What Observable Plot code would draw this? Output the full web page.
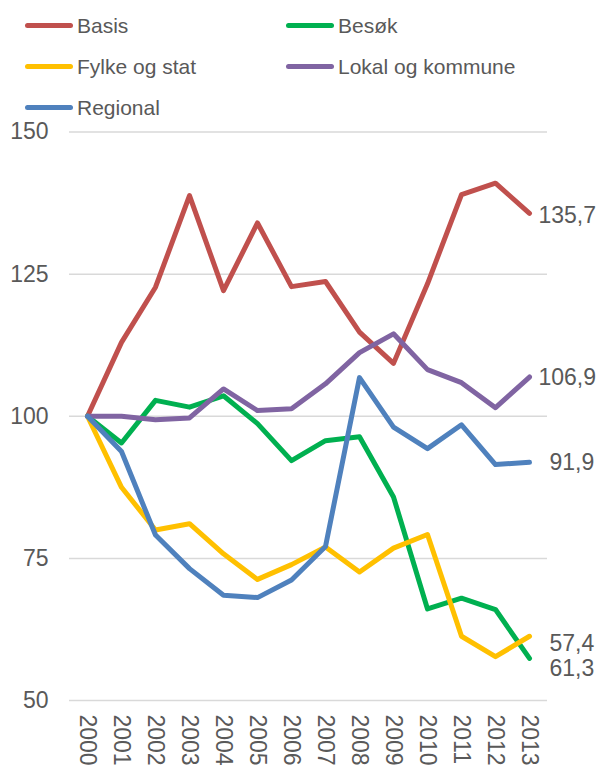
<!DOCTYPE html>
<html>
<head>
<meta charset="utf-8">
<script src="https://cdn.jsdelivr.net/npm/d3@7"></script>
<script src="https://cdn.jsdelivr.net/npm/@observablehq/plot@0.6"></script>
<style>
  html, body { margin: 0; padding: 0; background: #fff; overflow: hidden; }
  body { width: 601px; height: 767px; font-family: "Liberation Sans", Arial, sans-serif; color: #595959; }
  #legend { position: relative; z-index: 1; display: grid; grid-template-columns: 261px 300px; grid-template-rows: 41px 41px 41px; padding: 5px 0 0 25px; height: 95px; overflow: visible; box-sizing: content-box; }
  .item { display: flex; align-items: center; font-size: 21px; white-space: nowrap; }
  .sw { width: 48px; height: 5px; border-radius: 3px; margin-right: 4px; flex: none; }
  #chart svg { display: block; }
</style>
</head>
<body>
<div id="legend"></div>
<div id="chart"></div>
<script>
const years = ["2000","2001","2002","2003","2004","2005","2006","2007","2008","2009","2010","2011","2012","2013"];
const seriesNames = ["Basis", "Besøk", "Fylke og stat", "Lokal og kommune", "Regional"];
const colors = ["#c0504d", "#00b050", "#ffc000", "#8064a2", "#4f81bd"];
const basis    = [100, 113.0, 122.7, 138.8, 122.1, 134.0, 122.8, 123.7, 114.8, 109.3, 123.3, 139.0, 141.0, 135.7];
const besok    = [100, 95.3, 102.8, 101.6, 103.6, 98.7, 92.2, 95.7, 96.4, 85.8, 66.1, 68.0, 66.0, 57.4];
const fylke    = [100, 87.5, 80.0, 81.1, 75.8, 71.3, 73.9, 77.0, 72.6, 76.8, 79.2, 61.3, 57.7, 61.3];
const lokal    = [100, 100.0, 99.4, 99.7, 104.8, 101.0, 101.3, 105.7, 111.2, 114.5, 108.2, 105.9, 101.5, 106.9];
const regional = [100, 93.8, 79.1, 73.2, 68.5, 68.1, 71.2, 77.1, 106.8, 98.1, 94.3, 98.5, 91.5, 91.9];
const yTicks = [50, 75, 100, 125, 150];

const allValues = [basis, besok, fylke, lokal, regional];
const data = [];
seriesNames.forEach((s, i) => years.forEach((y, j) => data.push({series: s, year: y, value: allValues[i][j]})));
const last = data.filter(d => d.year === years[years.length - 1]);

// label placement offsets (style, not data)
const labelDx = {"Basis": 9, "Lokal og kommune": 9, "Regional": 20, "Besøk": 20, "Fylke og stat": 20};
const labelDy = {"Basis": 2, "Lokal og kommune": 1, "Regional": 0, "Besøk": -15, "Fylke og stat": 32};
const fmt = v => v.toFixed(1).replace(".", ",");

// legend
const legend = document.getElementById("legend");
seriesNames.forEach((s, i) => {
  const it = document.createElement("div");
  it.className = "item";
  it.innerHTML = `<span class="sw" style="background:${colors[i]}"></span><span>${s}</span>`;
  legend.appendChild(it);
});

const textMarks = seriesNames.map(s => Plot.text(last.filter(d => d.series === s), {
  x: "year", y: "value", text: d => fmt(d.value), textAnchor: "start",
  dx: labelDx[s], dy: labelDy[s], fontSize: 23, fill: "#595959"
}));

const plot = Plot.plot({
  width: 601,
  height: 667,
  marginTop: 31.5,
  marginBottom: 67,
  marginLeft: 69,
  marginRight: 54,
  style: { fontFamily: "'Liberation Sans', Arial, sans-serif", color: "#595959", background: "transparent", overflow: "visible" },
  x: { type: "point", domain: years, padding: 0.5 },
  y: { domain: [50, 150] },
  color: { domain: seriesNames, range: colors },
  marks: [
    Plot.ruleY(yTicks, { stroke: "#d9d9d9", strokeWidth: 1.5 }),
    Plot.axisY({ ticks: yTicks, tickSize: 0, tickPadding: 21, fontSize: 23, label: null, fill: "#595959" }),
    Plot.axisX({ tickSize: 0, tickRotate: 90, tickPadding: 14, fontSize: 23, label: null, fill: "#595959" }),
    Plot.line(data, { x: "year", y: "value", z: "series", stroke: "series", strokeWidth: 5, strokeLinejoin: "round", strokeLinecap: "round" }),
    ...textMarks
  ]
});
document.getElementById("chart").appendChild(plot);
</script>
</body>
</html>
